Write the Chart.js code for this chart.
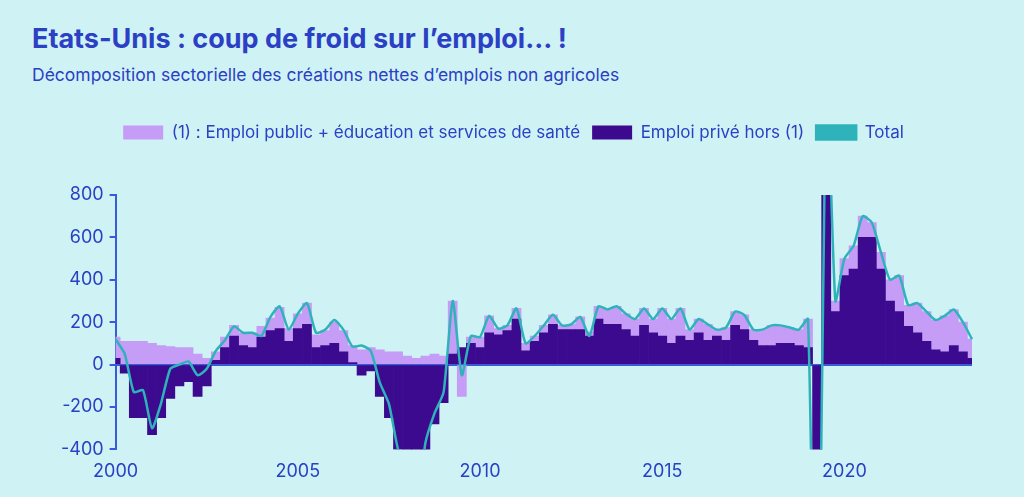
<!DOCTYPE html>
<html>
<head>
<meta charset="utf-8">
<script src="https://cdn.jsdelivr.net/npm/chart.js@4"></script>
<style>
  body { margin: 0; background: #cff3f4; font-family: Inter, "Noto Sans", sans-serif; width: 1024px; height: 497px; overflow: hidden; }
  h1 { position: absolute; left: 32px; top: 22px; margin: 0; font-size: 27px; font-weight: 700; color: #2b40c4; }
  h2 { position: absolute; left: 32px; top: 64px; margin: 0; font-size: 17.5px; font-weight: 400; color: #2b40c4; }
  #wrap { position: absolute; left: 0; top: 112px; width: 1000px; height: 385px; }
</style>
</head>
<body>
<h1>Etats-Unis : coup de froid sur l’emploi… !</h1>
<h2>Décomposition sectorielle des créations nettes d’emplois non agricoles</h2>
<div id="wrap"><canvas id="chart"></canvas></div>
<script>
// quarterly, 2000Q1 .. 2023Q3 (thousands)
const quarters = [];
for (let y = 2000; y <= 2023; y++) for (let q = 1; q <= 4; q++) quarters.push(y + 'T' + q);
quarters.length = 95;

const publicJobs = [100,110,110,110,100,90,85,80,80,50,30,40,50,50,60,70,50,60,100,60,
  70,100,60,70,100,100,80,70,80,70,60,60,40,30,40,50,40,250,-150,30,
  50,80,30,25,50,35,25,35,45,20,25,60,20,60,70,85,75,80,80,65,
  130,115,130,50,65,75,30,60,65,70,50,75,95,85,75,75,135,-100,100,50,
  80,110,100,70,80,100,170,100,140,140,140,170,170,140,90];
const privateJobs = [30,-40,-250,-250,-330,-250,-160,-100,-80,-150,-100,20,80,135,90,80,130,160,170,110,
  170,190,80,90,100,60,10,-50,-30,-150,-250,-400,-500,-700,-420,-280,-180,50,80,100,
  80,150,140,160,215,65,110,150,190,165,165,165,135,215,190,190,165,135,185,150,
  135,100,135,115,150,115,135,115,185,165,115,90,90,100,100,90,80,-1900,1400,250,
  420,450,600,600,450,300,250,180,150,110,70,60,90,60,30];
const totalJobs = [120,50,-130,-120,-300,-180,-20,0,15,-50,-20,65,115,180,150,150,135,225,275,165,
  240,290,150,165,210,165,85,90,65,-85,-185,-400,-500,-700,-370,-230,-130,300,-50,135,
  130,230,170,185,265,100,135,185,235,185,190,225,135,275,260,275,240,215,265,215,
  265,215,265,165,215,190,165,175,250,235,165,165,185,185,175,165,215,-2000,1500,300,
  500,560,700,670,530,400,420,280,290,250,210,230,260,200,120];

const blue = '#2b40c4';

// extra room under the legend
const legendGap = {
  id: 'legendGap',
  beforeInit(chart) {
    const fit = chart.legend.fit;
    chart.legend.fit = function () {
      fit.bind(chart.legend)();
      this.height += 44;
    };
  }
};

new Chart(document.getElementById('chart'), {
  data: {
    labels: quarters,
    datasets: [
      { type: 'bar', label: 'Emploi privé hors (1)', data: privateJobs,
        backgroundColor: '#3b0a8f', stack: 'bars', categoryPercentage: 1, barPercentage: 1, order: 2 },
      { type: 'bar', label: '(1) : Emploi public + éducation et services de santé', data: publicJobs,
        backgroundColor: '#c59cf6', stack: 'bars', categoryPercentage: 1, barPercentage: 1, order: 2 },
      { type: 'line', label: 'Total', data: totalJobs, stack: 'total',
        borderColor: '#2fb3ba', borderWidth: 2.5, pointRadius: 0, tension: 0.2, order: 1 }
    ]
  },
  options: {
    animation: false,
    maintainAspectRatio: false,
    layout: { padding: { left: 55, right: 28, top: 0, bottom: 12 } },
    plugins: {
      legend: {
        position: 'top',
        labels: {
          color: blue, font: { size: 17, family: 'Inter' }, usePointStyle: false,
          padding: 12, boxWidth: 40, boxHeight: 14,
          generateLabels: chart => [1, 0, 2].map(i => {
            const ds = chart.data.datasets[i];
            const isLine = ds.type === 'line';
            return {
              text: ds.label, datasetIndex: i, fontColor: blue,
              fillStyle: isLine ? ds.borderColor : ds.backgroundColor,
              strokeStyle: isLine ? ds.borderColor : ds.backgroundColor,
              lineWidth: isLine ? 2.5 : 0,
              pointStyle: isLine ? 'line' : 'rect'
            };
          })
        }
      },
      tooltip: { enabled: false }
    },
    scales: {
      x: {
        stacked: true,
        offset: false,
        grid: { display: false },
        border: { display: false },
        ticks: {
          autoSkip: false, maxRotation: 0, color: blue, font: { size: 18, family: 'Inter' },
          callback: (v, i) => (i % 20 === 0 ? quarters[i].slice(0, 4) : '')
        }
      },
      y: {
        stacked: true,
        min: -400, max: 800,
        ticks: { stepSize: 200, color: blue, font: { size: 18, family: 'Inter' }, padding: 6 },
        border: { display: true, color: '#3a5bd9', width: 2 },
        grid: {
          drawOnChartArea: true, tickLength: 6,
          color: c => (c.tick.value === 0 ? '#3a5bd9' : 'rgba(0,0,0,0)'),
          tickColor: '#3a5bd9', lineWidth: 2
        }
      }
    }
  },
  plugins: [legendGap]
});
</script>
</body>
</html>
